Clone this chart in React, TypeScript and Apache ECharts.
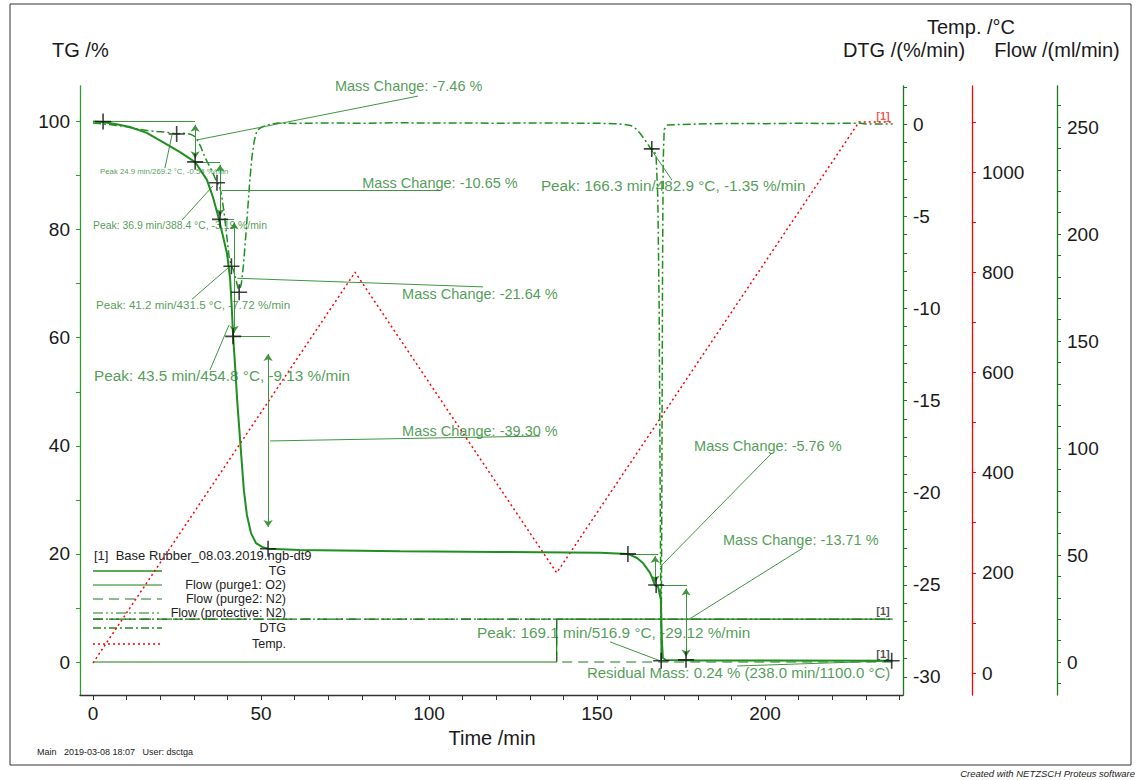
import React, { useEffect, useRef } from "react";
import * as echarts from "echarts";

const FONT = "Liberation Sans, Arial, Helvetica, sans-serif";

// ---- data (time in min) ----
const tgData: [number, number][] = [
  [0, 100], [3, 99.9], [7, 99.5], [11, 98.98], [16, 97.9], [20.8, 96.2], [25.9, 94.35],
  [30.4, 92.5], [33.9, 89.2], [35.7, 86.0], [37.2, 82.6], [38.5, 79.3], [39.9, 75.5],
  [40.8, 71.0], [41.3, 65.5], [41.7, 60.3], [42.3, 54.6], [42.9, 48.5], [44.0, 39.2],
  [44.9, 31.8], [45.8, 27.2], [47.0, 23.9], [48.5, 22.0], [50.3, 21.3], [52.1, 20.95],
  [61.6, 20.7], [91.4, 20.5], [121, 20.35], [151, 20.2], [159.2, 20.0], [161.9, 19.24],
  [163.7, 18.3], [165.8, 16.5], [167.3, 14.2], [168.2, 13.9], [169.0, 11.5], [169.3, 4.1],
  [169.6, 0.74], [170.5, 0.37], [180.7, 0.28], [238, 0.24],
];

const dtgData: [number, number][] = [
  [0, 0.05], [3, 0.0], [6, -0.05], [10, -0.15], [14, -0.3], [18, -0.4], [22, -0.45],
  [24.9, -0.54], [27, -0.5], [29, -0.55], [30.5, -0.7], [32, -1.2], [33.3, -1.8],
  [35, -2.4], [35.7, -2.66], [36.9, -3.19], [37.6, -3.3], [38.3, -3.9], [39, -4.8],
  [39.7, -5.9], [40.5, -7.2], [41.2, -7.72], [41.8, -7.9], [42.6, -8.5], [43.5, -9.13],
  [44.2, -8.6], [44.8, -7.6], [45.5, -6.0], [46.1, -4.5], [46.7, -3.0], [47.3, -1.8],
  [48, -0.9], [48.8, -0.35], [50.3, -0.16], [52, -0.05], [55, 0.05], [60, 0.03],
  [70, 0.06], [80, 0.04], [90, 0.07], [100, 0.05], [110, 0.06], [120, 0.04], [130, 0.06],
  [140, 0.05], [150, 0.04], [155, 0.02], [158, -0.02], [160, -0.08], [161.5, -0.25],
  [162.8, -0.5], [164, -0.8], [165, -1.05], [165.8, -1.3], [166.3, -1.35], [167, -1.4],
  [167.6, -1.8], [168.1, -4], [168.5, -10], [168.8, -20], [169.1, -29.12], [169.3, -20],
  [169.5, -8], [169.7, -2], [170, -0.3], [171, -0.05], [180, 0.0], [190, 0.03], [200, 0.02],
  [210, 0.04], [220, 0.03], [228, 0.05], [230, 0.0], [238, 0.0],
];

const tempData: [number, number][] = [[0, 20], [78, 800], [138, 200], [228, 1100], [238, 1100]];
const flowO2: [number, number][] = [[0, 0], [138, 0], [138, 20], [238, 20]];
const flowN2: [number, number][] = [[0, 20], [138, 20], [138, 0], [238, 0]];
const flowProt: [number, number][] = [[0, 20], [238, 20]];

// tick values
const timeLabels = [0, 50, 100, 150, 200];
const timeTicks = [0, 10, 20, 30, 40, 50, 60, 70, 80, 90, 100, 110, 120, 130, 140, 150, 160, 170, 180, 190, 200, 210, 220, 230, 240];
const tgLabels = [0, 20, 40, 60, 80, 100];
const tgTicks = [0, 10, 20, 30, 40, 50, 60, 70, 80, 90, 100];
const dtgLabels = [-30, -25, -20, -15, -10, -5, 0];
const dtgTicks = Array.from({ length: 33 }, (_, i) => i - 30);
const tempLabels = [0, 200, 400, 600, 800, 1000];
const tempTicks = [0, 100, 200, 300, 400, 500, 600, 700, 800, 900, 1000, 1100];
const flowLabels = [0, 50, 100, 150, 200, 250];
const flowTicks = Array.from({ length: 28 }, (_, i) => i * 10 - 10);

// ---- annotations (data units) ----
// [t1, v1, t2, v2] on TG axis
const tgGuides: number[][] = [
  [3.0, 100, 30.4, 100], [30.4, 92.54, 37.8, 92.54], [37.8, 81.89, 42.0, 81.89],
  [41.7, 60.25, 52.7, 60.25], [52.1, 20.95, 60, 20.95],
  [159.2, 20.0, 168.2, 20.0], [167.6, 14.24, 176.8, 14.24],
];
const tgArrows: number[][] = [
  [30.4, 99.4, 30.4, 93.2], [37.8, 92.0, 37.8, 82.5], [42.0, 81.3, 42.0, 60.9],
  [52.1, 57.0, 52.1, 25.0], [167.3, 19.6, 167.3, 14.7], [176.5, 13.6, 176.5, 1.0],
];
const tgLeaders: number[][] = [
  [31.0, 96.6, 96.7, 104.7], [38.4, 87.3, 103.3, 87.3], [42.9, 71.0, 116.1, 69.4],
  [52.7, 40.9, 133, 41.8], [168.8, 17.6, 202.1, 38.7], [177.1, 7.8, 211.3, 21.1],
  [191.7, -0.74, 237.2, 0.2],
];
const tgTexts: { t: number; v: number; text: string; size: number }[] = [
  { t: 72.0, v: 106.6, text: "Mass Change: -7.46 %", size: 14.5 },
  { t: 80.1, v: 88.6, text: "Mass Change: -10.65 %", size: 14.5 },
  { t: 92.0, v: 68.1, text: "Mass Change: -21.64 %", size: 14.5 },
  { t: 92.0, v: 42.7, text: "Mass Change: -39.30 %", size: 14.5 },
  { t: 178.9, v: 40.0, text: "Mass Change: -5.76 %", size: 14.5 },
  { t: 187.5, v: 22.6, text: "Mass Change: -13.71 %", size: 14.5 },
  { t: 147.0, v: -2.0, text: "Residual Mass: 0.24 % (238.0 min/1100.0 °C)", size: 15 },
];
const tgCrosses: [number, number][] = [
  [3.0, 100], [30.4, 92.54], [37.8, 81.89], [41.7, 60.25], [52.1, 20.95],
  [159.2, 20.0], [167.6, 14.24], [176.5, 0.4], [237.7, 0.24],
];
const dtgCrosses: [number, number][] = [
  [24.9, -0.54], [36.9, -3.19], [41.2, -7.72], [43.5, -9.13], [166.3, -1.35], [169.1, -29.12],
];
const dtgLeaders: number[][] = [
  [23.5, -0.6, 21.4, -2.39], [35.7, -3.36, 26.5, -5.21], [40.2, -7.81, 29.5, -9.5],
  [40.5, -10.9, 34.8, -13.35], [165.8, -1.3, 172.3, -3.04], [153.9, -28.1, 169.0, -29.14],
];
const dtgTexts: { t: number; v: number; text: string; size: number }[] = [
  { t: 2.1, v: -2.6, text: "Peak 24.9 min/269.2 °C, -0.54 %/min", size: 7.8 },
  { t: 0.0, v: -5.48, text: "Peak: 36.9 min/388.4 °C, -3.19 %/min", size: 10.4 },
  { t: 0.9, v: -9.77, text: "Peak: 41.2 min/431.5 °C, -7.72 %/min", size: 11.6 },
  { t: 0.3, v: -13.67, text: "Peak: 43.5 min/454.8 °C, -9.13 %/min", size: 15.3 },
  { t: 133.3, v: -3.36, text: "Peak: 166.3 min/482.9 °C, -1.35 %/min", size: 15.3 },
  { t: 114.3, v: -27.6, text: "Peak: 169.1 min/516.9 °C, -29.12 %/min", size: 15.3 },
];

const legendItems = [
  { name: "TG", color: "#1f8f1f", dash: null as number[] | null, width: 1.5 },
  { name: "Flow (purge1: O2)", color: "#1a7a1a", dash: null, width: 1 },
  { name: "Flow (purge2: N2)", color: "#1a7a1a", dash: [10, 6], width: 1 },
  { name: "Flow (protective: N2)", color: "#1a7a1a", dash: [10, 3, 2, 3, 2, 3], width: 1 },
  { name: "DTG", color: "#1f8f1f", dash: [8, 3, 2, 3], width: 1.5 },
  { name: "Temp.", color: "#ff0000", dash: [2, 3], width: 1.5 },
];

const GREEN = "#1f8f1f";
const ANN = "#3f963f";
const TXT = "#25842a";
const AX = "#1a1a1a";
const CROSS = "path://M9,0h2v20h-2z M0,9h20v2h-20z";

function seg(s: number[], arrow = false) {
  const sym = arrow ? "arrow" : "none";
  return [
    { coord: [s[0], s[1]], symbol: sym, symbolSize: 7 },
    { coord: [s[2], s[3]], symbol: sym, symbolSize: 7 },
  ];
}

export default function App() {
  const ref = useRef<HTMLDivElement>(null);
  useEffect(() => {
    if (!ref.current) return;
    const chart = echarts.init(ref.current, undefined, { renderer: "svg" });

    const plain = (v: number) => String(v);
    const yBase = (pos: "left" | "right", color: string, offset: number) => ({
      type: "value" as const,
      position: pos,
      offset,
      splitLine: { show: false },
      axisLine: { show: true, onZero: false, lineStyle: { color, width: 1.3 } },
    });
    const lbl = (vals: number[]) => ({
      color: AX, fontSize: 19, fontFamily: FONT, margin: 10, customValues: vals, formatter: plain,
    });

    const legendGraphics: any[] = [];
    legendGraphics.push({
      type: "text", x: 94, y: 555,
      style: { text: "[1]  Base Rubber_08.03.2019.ngb-dt9", font: `13px ${FONT}`, fill: "#222", textVerticalAlign: "middle" },
    });
    const rowsY = [571, 585, 599, 613, 628, 644];
    legendItems.forEach((it, i) => {
      legendGraphics.push({
        type: "line",
        shape: { x1: 93, y1: rowsY[i], x2: 162, y2: rowsY[i] },
        style: { stroke: it.color, lineWidth: it.width, lineDash: it.dash || undefined },
      });
      legendGraphics.push({
        type: "text", x: 286, y: rowsY[i],
        style: { text: it.name, font: `12.5px ${FONT}`, fill: "#222", textAlign: "right", textVerticalAlign: "middle" },
      });
    });

    const option: any = {
      animation: false,
      backgroundColor: "#ffffff",
      grid: { left: 80, right: 236, top: 86, bottom: 85, containLabel: false },
      xAxis: {
        type: "value",
        min: -3.87,
        max: 241.07,
        splitLine: { show: false },
        axisLine: { show: true, onZero: false, lineStyle: { color: "#333", width: 1.3 } },
        axisTick: { show: true, length: 5, customValues: timeTicks, lineStyle: { color: "#333" } },
        axisLabel: { customValues: timeLabels, color: AX, fontSize: 19, fontFamily: FONT, margin: 9, formatter: plain },
      },
      yAxis: [
        { ...yBase("left", "#2e9e2e", 0), min: -6.105, max: 106.57,
          axisTick: { show: true, length: 4, customValues: tgTicks, lineStyle: { color: "#2e9e2e" } },
          axisLabel: lbl(tgLabels) },
        { ...yBase("right", "#1a7a1a", 0), min: -30.98, max: 2.062,
          axisTick: { show: true, length: 4, customValues: dtgTicks, lineStyle: { color: "#1a7a1a" } },
          axisLabel: lbl(dtgLabels) },
        { ...yBase("right", "#ff0000", 69), min: -43.9, max: 1171.7,
          axisTick: { show: true, length: 4, customValues: tempTicks, lineStyle: { color: "#ff0000" } },
          axisLabel: lbl(tempLabels) },
        { ...yBase("right", "#1a7a1a", 154), min: -15.42, max: 269.2,
          axisTick: { show: true, length: 4, customValues: flowTicks, lineStyle: { color: "#1a7a1a" } },
          axisLabel: lbl(flowLabels) },
      ],
      graphic: [
        { type: "rect", shape: { x: 10, y: 4, width: 1121, height: 761 }, style: { fill: "none", stroke: "#333", lineWidth: 1 } },
        { type: "text", x: 52, y: 50, style: { text: "TG /%", font: `20px ${FONT}`, fill: AX, textVerticalAlign: "middle" } },
        { type: "text", x: 971, y: 27, style: { text: "Temp. /°C", font: `20px ${FONT}`, fill: AX, textAlign: "center", textVerticalAlign: "middle" } },
        { type: "text", x: 904, y: 50, style: { text: "DTG /(%/min)", font: `20px ${FONT}`, fill: AX, textAlign: "center", textVerticalAlign: "middle" } },
        { type: "text", x: 1057, y: 50, style: { text: "Flow /(ml/min)", font: `20px ${FONT}`, fill: AX, textAlign: "center", textVerticalAlign: "middle" } },
        { type: "text", x: 492, y: 738, style: { text: "Time /min", font: `20px ${FONT}`, fill: AX, textAlign: "center", textVerticalAlign: "middle" } },
        { type: "text", x: 37, y: 752, style: { text: "Main   2019-03-08 18:07   User: dsctga", font: `9px ${FONT}`, fill: "#222", textVerticalAlign: "middle" } },
        { type: "text", x: 1135, y: 773, style: { text: "Created with NETZSCH Proteus software", font: `italic 9.5px ${FONT}`, fill: "#222", textAlign: "right", textVerticalAlign: "middle" } },
        ...legendGraphics,
      ],
      series: [
        {
          name: "TG", type: "line", xAxisIndex: 0, yAxisIndex: 0, data: tgData,
          showSymbol: false, symbol: "none", smooth: false,
          lineStyle: { color: GREEN, width: 2 }, z: 5,
          markLine: {
            silent: true, animation: false, symbol: ["none", "none"],
            label: { show: false },
            lineStyle: { color: ANN, width: 1, type: "solid" },
            emphasis: { disabled: true },
            data: [
              ...tgGuides.map((s) => seg(s)),
              ...tgArrows.map((s) => seg(s, true)),
              ...tgLeaders.map((s) => seg(s)),
            ],
          },
        },
        {
          name: "DTG", type: "line", yAxisIndex: 1, data: dtgData,
          showSymbol: false, symbol: "none",
          lineStyle: { color: GREEN, width: 1.5, type: [8, 3, 2, 3] }, z: 4,
          markLine: {
            silent: true, animation: false, symbol: ["none", "none"],
            label: { show: false },
            lineStyle: { color: ANN, width: 1, type: "solid" },
            emphasis: { disabled: true },
            data: dtgLeaders.map((s) => seg(s)),
          },
        },
        {
          name: "Temp.", type: "line", yAxisIndex: 2, data: tempData,
          showSymbol: false, symbol: "none",
          lineStyle: { color: "#ff0000", width: 1.5, type: [2, 3] }, z: 3,
        },
        {
          name: "Flow (purge1: O2)", type: "line", yAxisIndex: 3, data: flowO2,
          showSymbol: false, symbol: "none", lineStyle: { color: "#1a7a1a", width: 1.2 }, z: 3,
        },
        {
          name: "Flow (purge2: N2)", type: "line", yAxisIndex: 3, data: flowN2,
          showSymbol: false, symbol: "none", lineStyle: { color: "#1a7a1a", width: 1.2, type: [10, 6] }, z: 3,
        },
        {
          name: "Flow (protective: N2)", type: "line", yAxisIndex: 3, data: flowProt,
          showSymbol: false, symbol: "none", lineStyle: { color: "#1a7a1a", width: 1.2, type: [10, 3, 2, 3, 2, 3] }, z: 3,
        },
        {
          type: "scatter", yAxisIndex: 0, data: tgCrosses, symbol: CROSS, symbolSize: 16,
          itemStyle: { color: "#111" }, silent: true, z: 8, clip: false,
        },
        {
          type: "scatter", yAxisIndex: 1, data: dtgCrosses, symbol: CROSS, symbolSize: 16,
          itemStyle: { color: "#111" }, silent: true, z: 8, clip: false,
        },
        {
          type: "scatter", yAxisIndex: 0, symbolSize: 0, silent: true, clip: false, z: 9,
          data: tgTexts.map((d) => ({
            value: [d.t, d.v],
            label: { show: true, position: "right", distance: 0, formatter: d.text, fontSize: d.size, fontFamily: FONT, color: TXT },
          })),
        },
        {
          type: "scatter", yAxisIndex: 1, symbolSize: 0, silent: true, clip: false, z: 9,
          data: dtgTexts.map((d) => ({
            value: [d.t, d.v],
            label: { show: true, position: "right", distance: 0, formatter: d.text, fontSize: d.size, fontFamily: FONT, color: TXT },
          })),
        },
        {
          type: "scatter", yAxisIndex: 3, symbolSize: 0, silent: true, clip: false, z: 9,
          data: [{ value: [238, 20], label: { show: true, position: "left", distance: 3, offset: [0, -8], formatter: "[1]", fontSize: 11, fontWeight: "bold", fontFamily: FONT, color: "#222" } }],
        },
        {
          type: "scatter", yAxisIndex: 0, symbolSize: 0, silent: true, clip: false, z: 9,
          data: [{ value: [238, 0.24], label: { show: true, position: "left", distance: 3, offset: [0, -7], formatter: "[1]", fontSize: 11, fontWeight: "bold", fontFamily: FONT, color: "#222" } }],
        },
        {
          type: "scatter", yAxisIndex: 2, symbolSize: 0, silent: true, clip: false, z: 9,
          data: [{ value: [238, 1100], label: { show: true, position: "left", distance: 3, offset: [0, -6], formatter: "[1]", fontSize: 11, fontWeight: "bold", fontFamily: FONT, color: "#e03030" } }],
        },
      ],
    };
    chart.setOption(option);
    return () => chart.dispose();
  }, []);

  return (
    <div
      ref={ref}
      style={{ position: "absolute", left: 0, top: 0, width: 1139, height: 780, background: "#fff" }}
    />
  );
}
